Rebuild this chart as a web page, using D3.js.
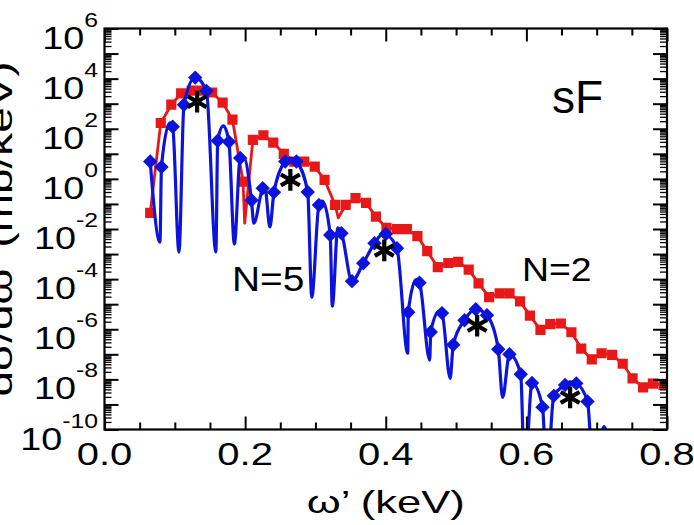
<!DOCTYPE html>
<html>
<head>
<meta charset="utf-8">
<script src="https://cdn.jsdelivr.net/npm/d3@7"></script>
<style>
  body { margin: 0; background: #fff; }
  svg { display: block; }
  text { font-family: "Liberation Sans", Arial, Helvetica, sans-serif; fill: #000; }
</style>
</head>
<body>
<svg id="chart" width="694" height="525"></svg>
<script>
// N = 2 spectrum: photon energy (keV) and dσ/dω' (mb/keV) at the square markers
const n2X = [0.065,0.080,0.095,0.109,0.124,0.138,0.153,0.168,0.182,0.197,
             0.211,0.226,0.240,0.255,0.270,0.284,0.299,0.313,0.328,0.343,
             0.357,0.372,0.386,0.401,0.416,0.430,0.445,0.459,0.474,0.489,
             0.503,0.518,0.532,0.547,0.562,0.576,0.591,0.605,0.620,0.634,
             0.649,0.664,0.678,0.693,0.707,0.722,0.737,0.751,0.766,0.780,
             0.795];
const n2Y = [4.4e-2,1.7e2,9.1e2,2.6e3,3.3e3,3.3e3,2.8e3,1.1e3,2.3e2,7.8e-1,
             3.6e1,5.5e1,2.8e1,1.0e1,4.9,4.9,3.1,9.1e-1,9.1e-2,9.1e-2,
             1.7e-1,1.1e-1,3.1e-2,1.1e-2,9.8e-3,9.8e-3,5.2e-3,1.3e-3,3.0e-4,4.4e-4,
             4.9e-4,2.4e-4,6.8e-5,1.9e-5,2.7e-5,2.7e-5,1.3e-5,3.5e-6,9.5e-7,1.6e-6,
             1.7e-6,7.6e-7,1.7e-7,6.3e-8,1.1e-7,9.5e-8,4.2e-8,1.1e-8,4.8e-9,6.8e-9,
             6.0e-9];
// points of the N = 2 curve between markers (interference minima)
const n2DipX = [0.1994, 0.3325];
const n2DipY = [1.7e-2, 2.8e-2];

// N = 5 spectrum at the diamond markers
const n5X = [0.065,0.081,0.097,0.113,0.129,0.145,0.161,0.177,0.193,0.209,
             0.225,0.241,0.257,0.273,0.289,0.305,0.321,0.337,0.352,0.368,
             0.384,0.400,0.416,0.432,0.448,0.464,0.480,0.496,0.512,0.528,
             0.544,0.560,0.576,0.592,0.608,0.623,0.639,0.655,0.671,0.687];
const n5Y = [4.9,3.0,1.2e2,9.1e2,1.1e4,3.2e3,3.3e1,3.0e1,6.8,1.4e-1,
             4.2e-1,2.9e-1,4.9,4.9,3.0e-1,9.1e-2,5.8e-3,6.8e-3,8.3e-5,4.3e-4,
             2.7e-3,6.3e-3,1.7e-3,4.8e-6,7.2e-5,7.8e-7,4.4e-6,2.4e-7,2.3e-6,6.3e-6,
             3.6e-6,1.6e-7,1.0e-7,1.6e-8,7.2e-9,7.8e-10,2.2e-9,6.0e-9,6.9e-9,1.3e-9];
// further points of the N = 5 curve: subsidiary maxima and zeros
const n5CurveX = [0.0789,0.093,0.1059,0.1584,0.169,0.1847,0.198,0.2124,0.228,0.2352,
                  0.265,0.2948,0.310,0.324,0.3318,0.397,0.4313,0.4433,0.4625,0.476,
                  0.4916,0.5662,0.5975,0.629,0.662,0.6956,0.7105,0.7233];
const n5CurveY = [3.0e-3,1.7e2,1.2e-3,1.2e-3,1.3e2,2.5e-3,7.2,1.7e-2,5.0e-1,1.2e-2,
                  6.6,1.9e-5,1.3e-1,8.3e-6,1.1e-2,6.9e-3,1.1e-7,9.5e-5,5.8e-8,5.2e-6,
                  1.1e-8,1.9e-9,1e-12,1e-12,7.9e-9,1e-12,1.3e-10,1e-12];

// harmonic peaks (asterisks)
const peakX = [0.1317, 0.2643, 0.3979, 0.530, 0.6622];
const peakY = [1.2e3, 9.1e-1, 1.4e-3, 1.4e-6, 1.9e-9];

// axis ticks and labels
const xMajorTicks = [0, 0.2, 0.4, 0.6, 0.8];
const xTickLabels = ["0.0", "0.2", "0.4", "0.6", "0.8"];
const xMinorTicks = [0.05,0.1,0.15,0.25,0.3,0.35,0.45,0.5,0.55,0.65,0.7,0.75];
const yDecades = [-10,-9,-8,-7,-6,-5,-4,-3,-2,-1,0,1,2,3,4,5,6];
const yLabelExponents = [6, 4, 2, 0, -2, -4, -6, -8, -10];

const RED = "#e81818";
const BLUE = "#0c14dc";

const plot = { left: 104.5, right: 667, top: 28.5, bottom: 429.5 };
const x = d3.scaleLinear().domain([0, 0.8]).range([plot.left, plot.right]);
const y = d3.scaleLog().domain([1e-10, 1e6]).range([plot.bottom, plot.top]);

const svg = d3.select("#chart");
svg.append("rect").attr("width", 694).attr("height", 525).attr("fill", "#fff");

svg.append("defs").append("clipPath").attr("id", "plotClip")
  .append("rect")
  .attr("x", plot.left).attr("y", plot.top)
  .attr("width", plot.right - plot.left).attr("height", plot.bottom - plot.top);

const data = svg.append("g").attr("clip-path", "url(#plotClip)");

// --- N = 2 curve (straight segments) ---
const n2Marks = n2X.map((v, i) => ({ x: v, y: n2Y[i] }));
const n2Line = n2Marks.concat(n2DipX.map((v, i) => ({ x: v, y: n2DipY[i] })))
  .sort((a, b) => a.x - b.x);

data.append("path")
  .datum(n2Line)
  .attr("fill", "none")
  .attr("stroke", RED)
  .attr("stroke-width", 2.8)
  .attr("stroke-linejoin", "round")
  .attr("d", d3.line().x(d => x(d.x)).y(d => y(d.y)));

data.append("g").selectAll("path")
  .data(n2Marks).join("path")
  .attr("transform", d => `translate(${x(d.x)},${y(d.y)})`)
  .attr("d", d3.symbol(d3.symbolSquare, 104)())
  .attr("fill", RED);

// --- N = 5 curve (smooth, with deep zeros) ---
const n5Marks = n5X.map((v, i) => ({ x: v, y: n5Y[i] }));
const n5Line = n5Marks.concat(n5CurveX.map((v, i) => ({ x: v, y: n5CurveY[i] })))
  .sort((a, b) => a.x - b.x);

data.append("path")
  .datum(n5Line)
  .attr("fill", "none")
  .attr("stroke", BLUE)
  .attr("stroke-width", 3.2)
  .attr("stroke-linejoin", "round")
  .attr("d", d3.line().curve(d3.curveMonotoneX).x(d => x(d.x)).y(d => y(d.y)));

data.append("g").selectAll("path")
  .data(n5Marks).join("path")
  .attr("transform", d => `translate(${x(d.x)},${y(d.y)}) rotate(45)`)
  .attr("d", d3.symbol(d3.symbolSquare, 104)())
  .attr("fill", BLUE);

// --- asterisks at the harmonic peaks ---
const asterisk = {
  draw(ctx, size) {
    const r = Math.sqrt(size) * 0.6;
    const t = r / 2, u = t * Math.sqrt(3);
    ctx.moveTo(0, r); ctx.lineTo(0, -r);
    ctx.moveTo(-u, -t); ctx.lineTo(u, t);
    ctx.moveTo(-u, t); ctx.lineTo(u, -t);
  }
};
svg.append("g").selectAll("path")
  .data(peakX.map((v, i) => ({ x: v, y: peakY[i] }))).join("path")
  .attr("transform", d => `translate(${x(d.x)},${y(d.y)})`)
  .attr("d", d3.symbol(asterisk, 330)())
  .attr("fill", "none")
  .attr("stroke", "#000")
  .attr("stroke-width", 4.2);

// --- axes: ticks pointing inward on all four sides ---
const yMinor = [];
yDecades.slice(0, -1).forEach(e => {
  for (let m = 2; m <= 9; m++) yMinor.push(m * Math.pow(10, e));
});
const yMajor = yDecades.map(e => Math.pow(10, e));

function styleAxis(sel, width) {
  sel.select(".domain").remove();
  sel.selectAll(".tick text").remove();
  sel.selectAll(".tick line").attr("stroke", "#000").attr("stroke-width", width);
}

svg.append("g").attr("transform", `translate(${plot.left},0)`)
  .call(d3.axisLeft(y).tickValues(yMajor).tickSize(-14).tickFormat(""))
  .call(styleAxis, 2);
svg.append("g").attr("transform", `translate(${plot.left},0)`)
  .call(d3.axisLeft(y).tickValues(yMinor).tickSize(-7).tickFormat(""))
  .call(styleAxis, 1.3);
svg.append("g").attr("transform", `translate(${plot.right},0)`)
  .call(d3.axisRight(y).tickValues(yMajor).tickSize(-14).tickFormat(""))
  .call(styleAxis, 2);
svg.append("g").attr("transform", `translate(${plot.right},0)`)
  .call(d3.axisRight(y).tickValues(yMinor).tickSize(-7).tickFormat(""))
  .call(styleAxis, 1.3);

svg.append("g").attr("transform", `translate(0,${plot.bottom})`)
  .call(d3.axisBottom(x).tickValues(xMajorTicks).tickSize(-13).tickFormat(""))
  .call(styleAxis, 2);
svg.append("g").attr("transform", `translate(0,${plot.bottom})`)
  .call(d3.axisBottom(x).tickValues(xMinorTicks).tickSize(-7).tickFormat(""))
  .call(styleAxis, 2);
svg.append("g").attr("transform", `translate(0,${plot.top})`)
  .call(d3.axisTop(x).tickValues(xMajorTicks).tickSize(-13).tickFormat(""))
  .call(styleAxis, 2);
svg.append("g").attr("transform", `translate(0,${plot.top})`)
  .call(d3.axisTop(x).tickValues(xMinorTicks).tickSize(-7).tickFormat(""))
  .call(styleAxis, 2);

// frame
svg.append("rect")
  .attr("x", plot.left).attr("y", plot.top)
  .attr("width", plot.right - plot.left).attr("height", plot.bottom - plot.top)
  .attr("fill", "none").attr("stroke", "#000").attr("stroke-width", 2.2);

// y tick labels: 10 with a raised exponent
const yLab = svg.append("g").selectAll("text")
  .data(yLabelExponents).join("text")
  .attr("transform", e => `translate(98,${y(Math.pow(10, e)) + 20}) scale(1.18,1)`)
  .attr("text-anchor", "end")
  .attr("font-size", 32);
yLab.append("tspan").text("10");
yLab.append("tspan").attr("font-size", 21).attr("dy", -22).text(e => String(e));

// x tick labels
svg.append("g").selectAll("text")
  .data(xMajorTicks).join("text")
  .attr("transform", d => `translate(${x(d)},465) scale(1.25,1)`)
  .attr("text-anchor", "middle")
  .attr("font-size", 32)
  .text((d, i) => xTickLabels[i]);

// axis titles
svg.append("text")
  .attr("transform", `translate(${(plot.left + plot.right) / 2},513) scale(1.36,1)`)
  .attr("text-anchor", "middle")
  .attr("font-size", 32)
  .text("ω’ (keV)");

svg.append("text")
  .attr("transform", `translate(12,${(plot.top + plot.bottom) / 2}) rotate(-90)`)
  .attr("text-anchor", "middle")
  .attr("font-size", 34)
  .attr("textLength", 335)
  .attr("lengthAdjust", "spacingAndGlyphs")
  .text("dσ/dω’ (mb/keV)");

// annotations
svg.append("text").attr("x", 552).attr("y", 113).attr("font-size", 46).text("sF");
svg.append("text").attr("transform", "translate(232,291) scale(1.08,1)").attr("font-size", 36).text("N=5");
svg.append("text").attr("transform", "translate(522,281) scale(1.1,1)").attr("font-size", 34).text("N=2");
</script>
</body>
</html>
